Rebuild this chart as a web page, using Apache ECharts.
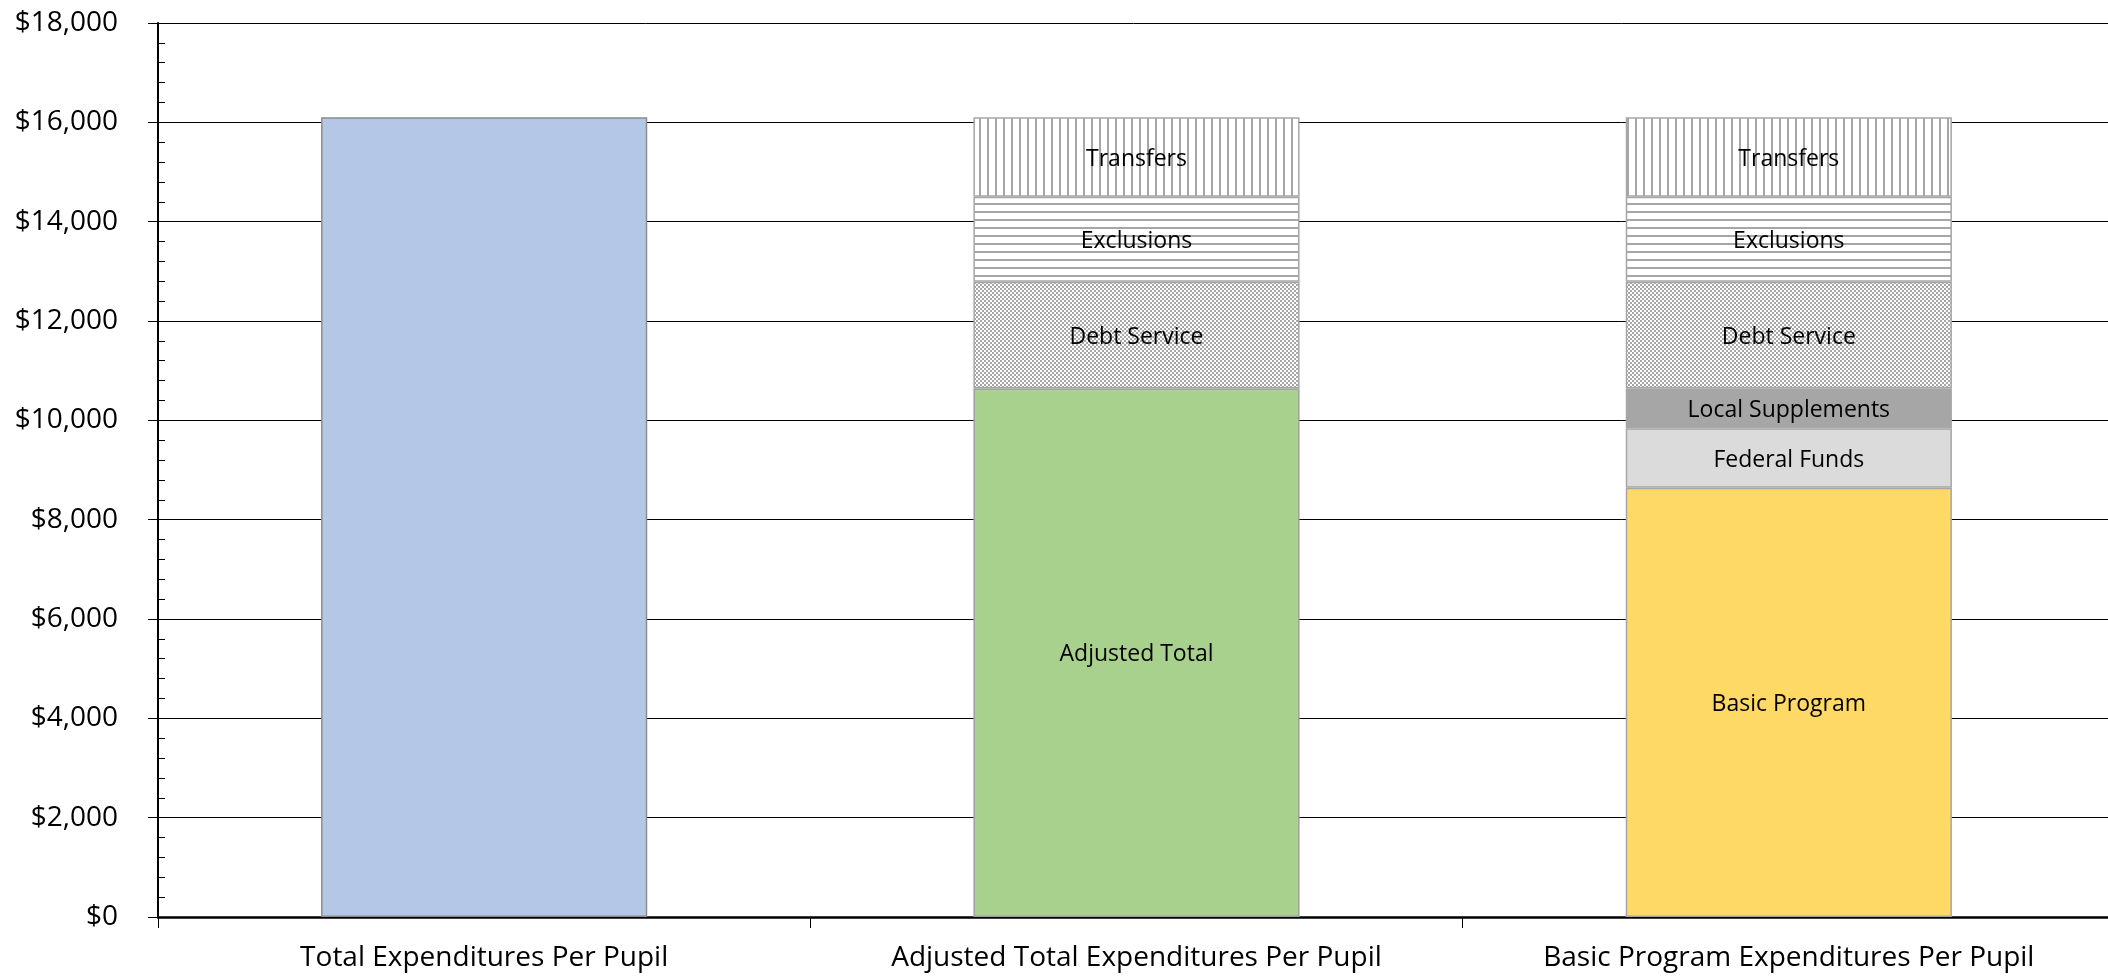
<!DOCTYPE html>
<html>
<head>
<meta charset="utf-8">
<script src="https://cdn.jsdelivr.net/npm/echarts@6/dist/echarts.min.js"></script>
<style>
html,body{margin:0;padding:0;background:#fff;}
#chart{width:2108px;height:976px;}
</style>
</head>
<body>
<div id="chart"></div>
<script>
// ---- data ----
const categories = ['Total Expenditures Per Pupil', 'Adjusted Total Expenditures Per Pupil', 'Basic Program Expenditures Per Pupil'];
const totalExpenditures = [16100, '-', '-'];
const adjustedTotal = ['-', 10645, '-'];
const basicProgram = ['-', '-', 8643];
const federalFunds = ['-', '-', 1197];
const localSupplements = ['-', '-', 805];
const debtService = ['-', 2145, 2145];
const exclusions = ['-', 1712, 1712];
const transfers = ['-', 1598, 1598];
const yTicks = [0, 2000, 4000, 6000, 8000, 10000, 12000, 14000, 16000, 18000];

// ---- patterns ----
function makeCanvas(w, h, draw) {
  const c = document.createElement('canvas');
  c.width = w; c.height = h;
  const ctx = c.getContext('2d');
  ctx.fillStyle = '#fff';
  ctx.fillRect(0, 0, w, h);
  draw(ctx);
  return c;
}
const vertLines = makeCanvas(8, 8, ctx => { ctx.fillStyle = '#a6a6a6'; ctx.fillRect(3, 0, 2, 8); });
const horizLines = makeCanvas(8, 8, ctx => { ctx.fillStyle = '#a6a6a6'; ctx.fillRect(0, 3, 8, 2); });
const checker = makeCanvas(4, 4, ctx => {
  ctx.fillStyle = '#a6a6a6';
  ctx.fillRect(0, 0, 2, 2);
  ctx.fillRect(2, 2, 2, 2);
});

const FONT = "'Open Sans', 'Noto Sans', sans-serif";
const innerLabel = name => ({
  show: true, position: 'inside', formatter: name, offset: [0, 2],
  color: '#000', fontFamily: FONT, fontSize: 23
});

function seg(name, data, color, borderColor, label) {
  return {
    name: name, type: 'bar', stack: 'exp', data: data,
    barCategoryGap: '50%',
    itemStyle: { color: color, borderColor: borderColor, borderWidth: 1.5 },
    label: label ? innerLabel(name) : { show: false },
    emphasis: { disabled: true }
  };
}

const chart = echarts.init(document.getElementById('chart'), null, { renderer: 'canvas' });
chart.setOption({
  animation: false,
  backgroundColor: '#fff',
  grid: { left: 158, width: 1957, top: 23, bottom: 59, containLabel: false, outerBoundsMode: 'none' },
  xAxis: {
    type: 'category', data: categories,
    axisLine: { show: true, lineStyle: { color: '#000', width: 2.5 } },
    axisTick: { show: true, length: 11, alignWithLabel: false, lineStyle: { color: '#000', width: 1 } },
    axisLabel: { color: '#000', fontFamily: FONT, fontSize: 28, margin: 27, interval: 0 }
  },
  yAxis: [{
    type: 'value', min: 0, max: 18000, interval: 2000,
    axisLine: { show: true, lineStyle: { color: '#000', width: 2 } },
    axisTick: { show: true, length: 10, inside: false, lineStyle: { color: '#000', width: 1 } },
    splitLine: { show: true, lineStyle: { color: '#000', width: 1 } },
    axisLabel: {
      color: '#000', fontFamily: FONT, fontSize: 28, margin: 40,
      formatter: v => yTicks.indexOf(v) >= 0 ? '$' + v.toLocaleString('en-US') : ''
    }
  }, {
    type: 'value', min: 0, max: 18000, interval: 400, position: 'left',
    axisLine: { show: false },
    axisTick: { show: true, inside: true, length: 7, lineStyle: { color: '#000', width: 1 } },
    splitLine: { show: false },
    axisLabel: { show: false }
  }],
  series: [
    seg('Total Expenditures', totalExpenditures, '#b4c7e7', '#8c8c8c', false),
    seg('Adjusted Total', adjustedTotal, '#a9d18e', '#a0a0a0', true),
    seg('Basic Program', basicProgram, '#ffd966', '#a6a6a6', true),
    seg('Federal Funds', federalFunds, '#dbdbdb', '#a6a6a6', true),
    seg('Local Supplements', localSupplements, '#a6a6a6', '#a6a6a6', true),
    seg('Debt Service', debtService, { image: checker, repeat: 'repeat' }, '#a6a6a6', true),
    seg('Exclusions', exclusions, { image: horizLines, repeat: 'repeat' }, '#a6a6a6', true),
    seg('Transfers', transfers, { image: vertLines, repeat: 'repeat' }, '#a6a6a6', true)
  ]
});
</script>
</body>
</html>
